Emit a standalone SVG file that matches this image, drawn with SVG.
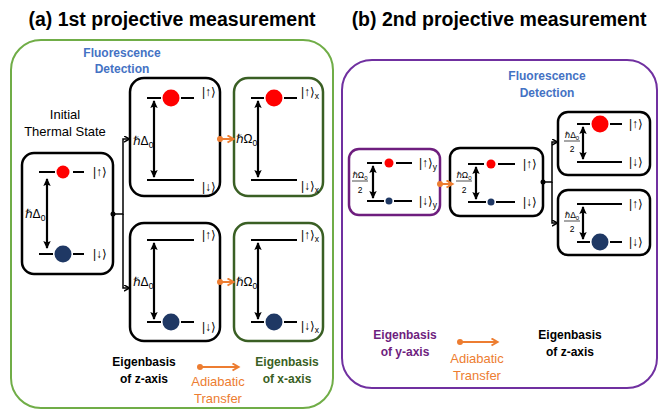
<svg xmlns="http://www.w3.org/2000/svg" width="664" height="415" viewBox="0 0 664 415">
<defs>
<marker id="dh" markerUnits="userSpaceOnUse" markerWidth="10" markerHeight="10" refX="7" refY="4" orient="auto-start-reverse"><path d="M0,0.3 L8,4 L0,7.7 L1.5,4 z" fill="#000"/></marker>
<marker id="br" markerUnits="userSpaceOnUse" markerWidth="10" markerHeight="10" refX="5.5" refY="3.5" orient="auto"><path d="M0.5,0.5 L6,3.5 L0.5,6.5" fill="none" stroke="#000" stroke-width="1.5"/></marker>
<marker id="or" markerUnits="userSpaceOnUse" markerWidth="10" markerHeight="10" refX="6" refY="4" orient="auto"><path d="M0.5,0.5 L6.5,4 L0.5,7.5" fill="none" stroke="#ED7D31" stroke-width="2"/></marker>
</defs>
<style>
.t{font-family:"Liberation Sans",Arial,sans-serif}
.title{font-size:19.5px;font-weight:bold;fill:#000}
.fl{font-size:12px;font-weight:bold;fill:#4472C4}
.eb{font-size:12px;font-weight:bold}
.reg{font-size:13px;fill:#000}
.ad{font-size:13px;fill:#ED7D31}
.m{font-family:"Liberation Sans","DejaVu Sans",sans-serif;font-size:12px;fill:#000}
.ms{font-family:"Liberation Sans","DejaVu Sans",sans-serif;font-size:8.5px;fill:#000}
.box{fill:#fff;stroke:#000;stroke-width:2.5}
.gbox{fill:#fff;stroke:#3A5F24;stroke-width:2.5}
.pbox{fill:#fff;stroke:#6E1E7E;stroke-width:2.5}
.lv{stroke:#000;stroke-width:2;fill:none}
.da{stroke:#000;stroke-width:2.2;marker-start:url(#dh);marker-end:url(#dh)}
.up{fill:#FF0000}
.dn{fill:#1F3864}
.con{stroke:#000;stroke-width:1.5;fill:none;marker-end:url(#br)}
.oa{stroke:#ED7D31;stroke-width:2;marker-end:url(#or)}
</style>

<text class="t title" x="172" y="26" text-anchor="middle">(a) 1st projective measurement</text>
<text class="t title" x="499" y="26" text-anchor="middle">(b) 2nd projective measurement</text>

<g id="panelA">
<rect x="11" y="40" width="322" height="368" rx="30" fill="none" stroke="#70AD47" stroke-width="2"/>
<text class="t fl" x="122" y="57" text-anchor="middle">Fluorescence</text>
<text class="t fl" x="122" y="73" text-anchor="middle">Detection</text>
<text class="t reg" x="65" y="119" text-anchor="middle">Initial</text>
<text class="t reg" x="65" y="136" text-anchor="middle">Thermal State</text>
<text class="t eb" x="144" y="366" text-anchor="middle">Eigenbasis</text>
<text class="t eb" x="144" y="383" text-anchor="middle">of z-axis</text>
<text class="t eb" x="287" y="366" text-anchor="middle" fill="#3A5F24">Eigenbasis</text>
<text class="t eb" x="287" y="383" text-anchor="middle" fill="#3A5F24">of x-axis</text>
<circle cx="200" cy="367" r="3" fill="#ED7D31"/>
<line class="oa" x1="200" y1="367" x2="238" y2="367"/>
<text class="t ad" x="218" y="386" text-anchor="middle">Adiabatic</text>
<text class="t ad" x="218" y="403" text-anchor="middle">Transfer</text>
</g>

<g id="initial">
<rect class="box" x="22" y="153" width="91" height="121" rx="12"/>
<path class="lv" d="M39 172H55M73 172H84"/>
<circle class="up" cx="63" cy="172" r="6.5"/>
<text class="m" x="93" y="176">|↑⟩</text>
<path class="lv" d="M39 254H53M73 254H84"/>
<circle class="dn" cx="63" cy="254" r="8.5"/>
<text class="m" x="93" y="258">|↓⟩</text>
<line class="da" x1="47" y1="179" x2="47" y2="248"/>
<text class="m" x="25" y="218">ℏΔ<tspan class="ms" dy="3">0</tspan></text>
</g>

<g id="zTop">
<rect class="box" x="130" y="78" width="90" height="118" rx="14"/>
<path class="lv" d="M147 98H161M181 98H194"/>
<circle class="up" cx="171" cy="98" r="8.5"/>
<text class="m" x="202" y="96">|↑⟩</text>
<path class="lv" d="M147 180H194"/>
<text class="m" x="202" y="191">|↓⟩</text>
<line class="da" x1="154" y1="101" x2="154" y2="177"/>
<text class="m" x="133" y="145">ℏΔ<tspan class="ms" dy="3">0</tspan></text>
</g>

<g id="xTop">
<rect class="gbox" x="234" y="78" width="89" height="118" rx="14"/>
<path class="lv" d="M251 98H264M284 98H297"/>
<circle class="up" cx="274" cy="98" r="8.5"/>
<text class="m" x="301" y="96">|↑⟩<tspan class="ms" dy="3">x</tspan></text>
<path class="lv" d="M251 180H297"/>
<text class="m" x="301" y="190">|↓⟩<tspan class="ms" dy="3">x</tspan></text>
<line class="da" x1="258" y1="101" x2="258" y2="177"/>
<text class="m" x="236" y="143">ℏΩ<tspan class="ms" dy="3">0</tspan></text>
</g>

<g id="zBottom">
<rect class="box" x="130" y="223" width="90" height="118" rx="14"/>
<path class="lv" d="M147 240H194"/>
<text class="m" x="202" y="239">|↑⟩</text>
<path class="lv" d="M147 322H161M181 322H194"/>
<circle class="dn" cx="171" cy="322" r="8.5"/>
<text class="m" x="202" y="331">|↓⟩</text>
<line class="da" x1="154" y1="243" x2="154" y2="319"/>
<text class="m" x="133" y="286">ℏΔ<tspan class="ms" dy="3">0</tspan></text>
</g>

<g id="xBottom">
<rect class="gbox" x="234" y="223" width="89" height="118" rx="14"/>
<path class="lv" d="M251 240H297"/>
<text class="m" x="301" y="239">|↑⟩<tspan class="ms" dy="3">x</tspan></text>
<path class="lv" d="M251 322H264M284 322H297"/>
<circle class="dn" cx="274" cy="322" r="8.5"/>
<text class="m" x="301" y="330">|↓⟩<tspan class="ms" dy="3">x</tspan></text>
<line class="da" x1="258" y1="243" x2="258" y2="319"/>
<text class="m" x="236" y="286">ℏΩ<tspan class="ms" dy="3">0</tspan></text>
</g>

<g id="panelB">
<rect x="342" y="60" width="315" height="328" rx="30" fill="none" stroke="#7030A0" stroke-width="2"/>
<text class="t fl" x="547" y="80" text-anchor="middle">Fluorescence</text>
<text class="t fl" x="547" y="97" text-anchor="middle">Detection</text>
<text class="t eb" x="405" y="339" text-anchor="middle" fill="#6E1E7E">Eigenbasis</text>
<text class="t eb" x="405" y="356" text-anchor="middle" fill="#6E1E7E">of y-axis</text>
<text class="t eb" x="570" y="339" text-anchor="middle">Eigenbasis</text>
<text class="t eb" x="570" y="356" text-anchor="middle">of z-axis</text>
<circle cx="460" cy="342" r="3" fill="#ED7D31"/>
<line class="oa" x1="460" y1="342" x2="497" y2="342"/>
<text class="t ad" x="477" y="363" text-anchor="middle">Adiabatic</text>
<text class="t ad" x="477" y="380" text-anchor="middle">Transfer</text>
</g>

<g id="yBox">
<rect class="pbox" x="349" y="149" width="91" height="66" rx="10"/>
<path class="lv" d="M367 163H382M396 163H412"/>
<circle class="up" cx="389" cy="163" r="4.5"/>
<text class="m" x="419" y="167">|↑⟩<tspan class="ms" dy="3">y</tspan></text>
<path class="lv" d="M367 201H384M394 201H412"/>
<circle class="dn" cx="389" cy="201" r="3.5"/>
<text class="m" x="419" y="205">|↓⟩<tspan class="ms" dy="3">y</tspan></text>
<line class="da" x1="373" y1="166" x2="373" y2="198"/>
<text class="ms" x="360" y="178" text-anchor="middle">ℏΩ<tspan font-size="6" dy="2">0</tspan></text>
<line x1="352" y1="181" x2="368" y2="181" stroke="#000" stroke-width="0.7"/>
<text class="ms" x="360" y="193" text-anchor="middle">2</text>
</g>

<g id="zMid">
<rect class="box" x="450" y="148" width="93" height="68" rx="10"/>
<path class="lv" d="M468 164H484M498 164H515"/>
<circle class="up" cx="491" cy="164" r="4.5"/>
<text class="m" x="523" y="168">|↑⟩</text>
<path class="lv" d="M468 202H486M496 202H515"/>
<circle class="dn" cx="491" cy="202" r="3.5"/>
<text class="m" x="523" y="206">|↓⟩</text>
<line class="da" x1="476" y1="167" x2="476" y2="199"/>
<text class="ms" x="464" y="178" text-anchor="middle">ℏΩ<tspan font-size="6" dy="2">0</tspan></text>
<line x1="456" y1="181" x2="472" y2="181" stroke="#000" stroke-width="0.7"/>
<text class="ms" x="464" y="193" text-anchor="middle">2</text>
</g>

<g id="zUpRight">
<rect class="box" x="558" y="112" width="92" height="63" rx="10"/>
<path class="lv" d="M577 124H590M610 124H622"/>
<circle class="up" cx="600" cy="124" r="8.5"/>
<text class="m" x="629" y="128">|↑⟩</text>
<path class="lv" d="M577 162H622"/>
<text class="m" x="629" y="166">|↓⟩</text>
<line class="da" x1="583" y1="127" x2="583" y2="159"/>
<text class="ms" x="572" y="138" text-anchor="middle">ℏΔ<tspan font-size="6" dy="2">0</tspan></text>
<line x1="564" y1="141" x2="580" y2="141" stroke="#000" stroke-width="0.7"/>
<text class="ms" x="572" y="152" text-anchor="middle">2</text>
</g>

<g id="zDownRight">
<rect class="box" x="558" y="190" width="92" height="65" rx="10"/>
<path class="lv" d="M577 204H622"/>
<text class="m" x="629" y="208">|↑⟩</text>
<path class="lv" d="M577 242H590M610 242H622"/>
<circle class="dn" cx="600" cy="242" r="8.5"/>
<text class="m" x="629" y="246">|↓⟩</text>
<line class="da" x1="583" y1="207" x2="583" y2="239"/>
<text class="ms" x="572" y="218" text-anchor="middle">ℏΔ<tspan font-size="6" dy="2">0</tspan></text>
<line x1="564" y1="221" x2="580" y2="221" stroke="#000" stroke-width="0.7"/>
<text class="ms" x="572" y="232" text-anchor="middle">2</text>
</g>

<g id="connectors">
<circle cx="113" cy="214" r="2.5" fill="#000"/>
<path class="con" d="M113 214H123V139H129"/>
<path class="con" d="M123 214V288H129"/>
<circle cx="220" cy="139" r="3" fill="#ED7D31"/>
<line class="oa" x1="220" y1="139" x2="233" y2="139"/>
<circle cx="220" cy="282" r="3" fill="#ED7D31"/>
<line class="oa" x1="220" y1="282" x2="233" y2="282"/>
<circle cx="440" cy="184" r="3" fill="#ED7D31"/>
<line class="oa" x1="440" y1="184" x2="452" y2="184"/>
<circle cx="543" cy="182" r="2.5" fill="#000"/>
<path class="con" d="M543 182H552V142H557"/>
<path class="con" d="M552 182V223H557"/>
</g>
</svg>
